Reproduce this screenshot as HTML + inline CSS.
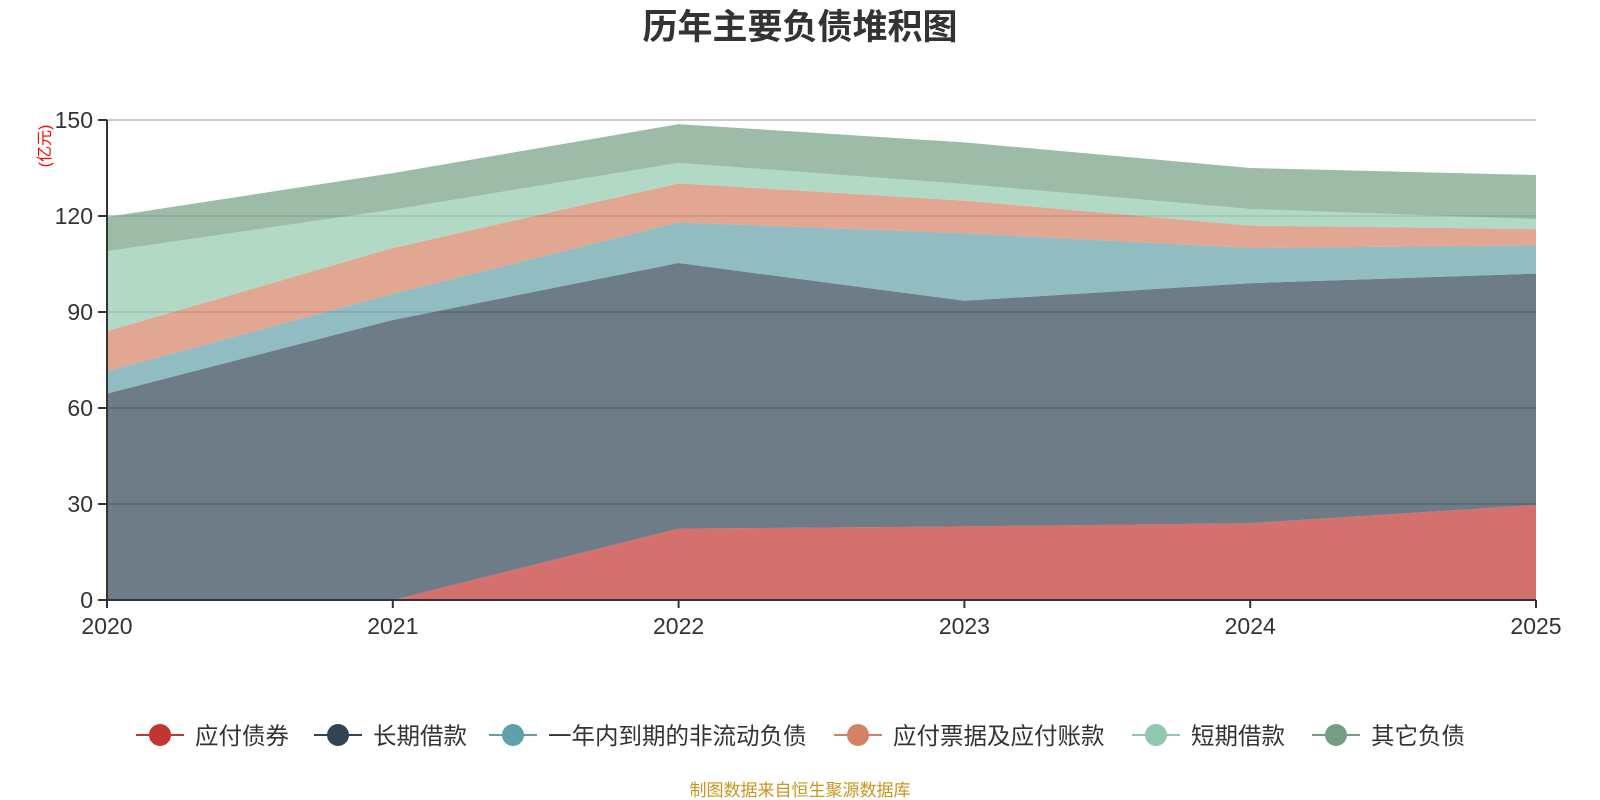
<!DOCTYPE html>
<html><head><meta charset="utf-8">
<style>
html,body{margin:0;padding:0;background:#fff;width:1600px;height:800px;overflow:hidden}
svg text{font-family:"Liberation Sans","Noto Sans CJK SC",sans-serif}
</style></head>
<body>
<svg id="chart" width="1600" height="800" viewBox="0 0 1600 800">
<text x="800" y="39" text-anchor="middle" font-size="35" font-weight="bold" fill="#333">历年主要负债堆积图</text>
<text transform="translate(50,146) rotate(-90)" text-anchor="middle" font-size="16" fill="#f00">(亿元)</text>
<g id="grid"></g>
<g id="areas"></g>
<g id="axes"></g>
<g id="legend"></g>
<text x="800" y="796" text-anchor="middle" font-size="17" fill="#c8961e">制图数据来自恒生聚源数据库</text>
</svg>
<script>
const categories=["2020","2021","2022","2023","2024","2025"];
const seriesNames=["应付债券","长期借款","一年内到期的非流动负债","应付票据及应付账款","短期借款","其它负债"];
const bonds=[0,0,22.3,23,24,29.7];
const longLoans=[64.5,87.5,83,70.5,75,72.3];
const currentNonCurrent=[7,8.2,12.7,21.1,11,8.8];
const payables=[12.5,14.3,12.2,10.2,7,5.1];
const shortLoans=[25,12,6.4,5.2,5.2,3.1];
const otherLiab=[10.7,11.4,12.1,13,12.8,13.8];
const yTicks=[0,30,60,90,120,150];
const colors=["#c23531","#2f4554","#61a0a8","#d48265","#91c7ae","#749f83"];
const series=[bonds,longLoans,currentNonCurrent,payables,shortLoans,otherLiab];
const NS="http://www.w3.org/2000/svg";
const X0=107,X1=1536,Y0=600,Y1=120,YMAX=150;
const xs=i=>X0+(X1-X0)*i/(categories.length-1);
const ys=v=>Y0-(Y0-Y1)*v/YMAX;
function mk(tag,attrs,parent){const e=document.createElementNS(NS,tag);for(const k in attrs)e.setAttribute(k,attrs[k]);parent.appendChild(e);return e;}
const grid=document.getElementById('grid'),areas=document.getElementById('areas'),axes=document.getElementById('axes'),legend=document.getElementById('legend');
yTicks.forEach(t=>{
  if(t>0){const l=mk('line',{x1:X0,x2:X1,y1:ys(t),y2:ys(t),stroke:'#ccc','stroke-width':2},grid);
  
  }
  mk('line',{x1:X0-9,x2:X0,y1:ys(t),y2:ys(t),stroke:'#333','stroke-width':2},axes);
  const tx=mk('text',{x:X0-14,y:ys(t)+8,'text-anchor':'end','font-size':23,fill:'#333'},axes);
  tx.textContent=t;
  
  
});
let base=categories.map(()=>0);
series.forEach((s,k)=>{
  const top=base.map((b,i)=>b+s[i]);
  let d='';
  top.forEach((v,i)=>{d+=(i?'L':'M')+xs(i)+','+ys(v);});
  for(let i=base.length-1;i>=0;i--)d+='L'+xs(i)+','+ys(base[i]);
  const p=mk('path',{d:d+'Z',fill:colors[k],'fill-opacity':0.7},areas);
  
  
  base=top;
});
mk('line',{x1:X0,x2:X0,y1:Y1,y2:Y0,stroke:'#333','stroke-width':2},axes);
mk('line',{x1:X0,x2:X1,y1:Y0,y2:Y0,stroke:'#333','stroke-width':2},axes);
categories.forEach((c,i)=>{
  mk('line',{x1:xs(i),x2:xs(i),y1:Y0,y2:Y0+8,stroke:'#333','stroke-width':2},axes);
  const t=mk('text',{x:xs(i),y:Y0+34,'text-anchor':'middle','font-size':23,fill:'#333'},axes);
  t.textContent=c;
  
  
});
const legX=[160,338,513,858,1156,1336];
seriesNames.forEach((n,k)=>{
  const g=mk('g',{},legend);
  
  
  const cx=legX[k];
  mk('line',{x1:cx-24,x2:cx+24,y1:735,y2:735,stroke:colors[k],'stroke-width':2},g);
  mk('circle',{cx:cx,cy:735,r:11,fill:colors[k]},g);
  const t=mk('text',{x:cx+35,y:744,'font-size':23.5,fill:'#333'},g);
  t.textContent=n;
});
</script>
</body></html>
